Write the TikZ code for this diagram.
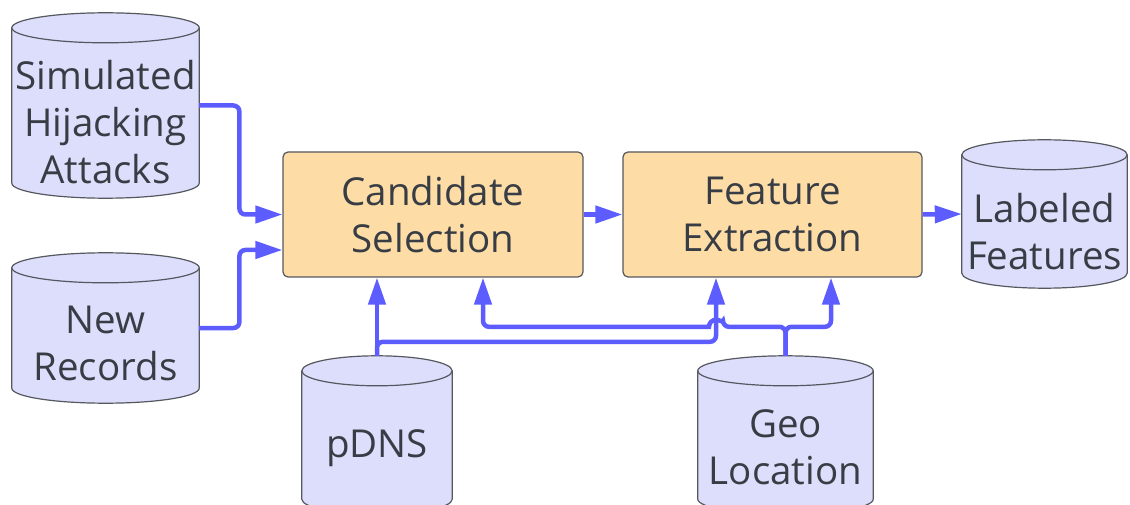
\documentclass[tikz,border=0pt]{standalone}
\usepackage{fontspec}
\setmainfont{Open Sans}
\usetikzlibrary{arrows.meta,calc}

\definecolor{dbfill}{HTML}{DDDEFC}
\definecolor{stepfill}{HTML}{FDDDA5}
\definecolor{flowblue}{HTML}{5C5CFF}
\definecolor{edgegray}{HTML}{55585E}
\definecolor{txtgray}{HTML}{383D45}

\begin{document}
\begin{tikzpicture}[x=1pt,y=1pt,font=\fontsize{38.5}{47}\selectfont,text=txtgray,
  db/.style={rectangle,inner sep=0pt},
  dbline/.style={draw=edgegray,line width=1.2pt},
  dbtext/.style={align=center},
  stepbox/.style={rectangle,rounded corners=5pt,draw=edgegray,line width=1.2pt,fill=stepfill,minimum width=300pt,minimum height=125pt,align=center},
  flow/.style={draw=flowblue,line width=4.5pt,rounded corners=6pt,-{Triangle[length=27pt,width=17pt]}}]
  \useasboundingbox (0,0) rectangle (1130,504);
  % datenbanken
  \node[db,minimum width=187pt,minimum height=185pt] (sim) at (105.5,398.5) {};
  \node[db,minimum width=187pt,minimum height=150pt] (new) at (105.5,176) {};
  \node[db,minimum width=165pt,minimum height=148pt] (lab) at (1044.5,290) {};
  \node[db,minimum width=150pt,minimum height=158pt] (pdns) at (377,69) {};
  \node[db,minimum width=175pt,minimum height=158pt] (geo) at (785.5,69) {};
  \foreach \db in {sim,new,lab,pdns,geo}{
    \path[dbline,fill=dbfill] let \p1=(\db.north west), \p2=(\db.south east), \n1={(\x2-\x1)/2} in
      ([yshift=-15pt]\db.north west) -- ([yshift=15pt]\db.south west)
      arc[start angle=180,end angle=360,x radius=\n1,y radius=15pt]
      -- ([yshift=-15pt]\db.north east)
      arc[start angle=0,end angle=180,x radius=\n1,y radius=15pt] -- cycle;
    \draw[dbline] let \p1=(\db.north west), \p2=(\db.south east), \n1={(\x2-\x1)/2} in
      ([yshift=-15pt]\db.north west) arc[start angle=180,end angle=360,x radius=\n1,y radius=15pt];
  }
  \node[dbtext] (simtxt) at ([yshift=-17pt]sim.center) {Simulated\\Hijacking\\Attacks};
  \node[dbtext] (newtxt) at ([yshift=-15.5pt]new.center) {New\\Records};
  \node[dbtext] (labtxt) at ([yshift=-17.5pt]lab.center) {Labeled\\Features};
  \node[dbtext] (pdnstxt) at ([yshift=-13pt]pdns.center) {pDNS};
  \node[dbtext] (geotxt) at ([yshift=-12.5pt]geo.center) {Geo\\Location};
  % verarbeitung
  \node[stepbox] (cand) at (433,289.5) {Candidate\\Selection};
  \node[stepbox,minimum width=299pt] (feat) at (772.5,289.5) {Feature\\Extraction};
  \coordinate (cIn1) at ([xshift=-56pt]cand.south);
  \coordinate (cIn2) at ([xshift=50pt]cand.south);
  \coordinate (fIn1) at ([xshift=-56.5pt]feat.south);
  \coordinate (fIn2) at ([xshift=58.5pt]feat.south);
  \coordinate (pj) at ([yshift=14pt]pdns.north);
  \coordinate (gj) at ([yshift=29pt]geo.north);
  % fluss
  \draw[flow] (sim.east) -| ([xshift=-43pt]cand.west) -- (cand.west);
  \draw[flow] (new.east) -| ([xshift=-43pt,yshift=-35.5pt]cand.west) -- ([yshift=-35.5pt]cand.west);
  \draw[flow] (cand.east) -- (feat.west);
  \draw[flow] (feat.east) -- (lab.west);
  \draw[flow] (pdns.north) -- (cIn1);
  \draw[flow] (pdns.north) -- (pj) -| (fIn1);
  \draw[flow] (geo.north) -- (gj) -| (fIn2);
  \draw[flow] (geo.north) -- (gj) -- ([xshift=7pt]gj -| fIn1) [sharp corners] arc[start angle=0,end angle=180,radius=7pt]
    [rounded corners=6pt] -- (gj -| cIn2) -- (cIn2);
\end{tikzpicture}
\end{document}
